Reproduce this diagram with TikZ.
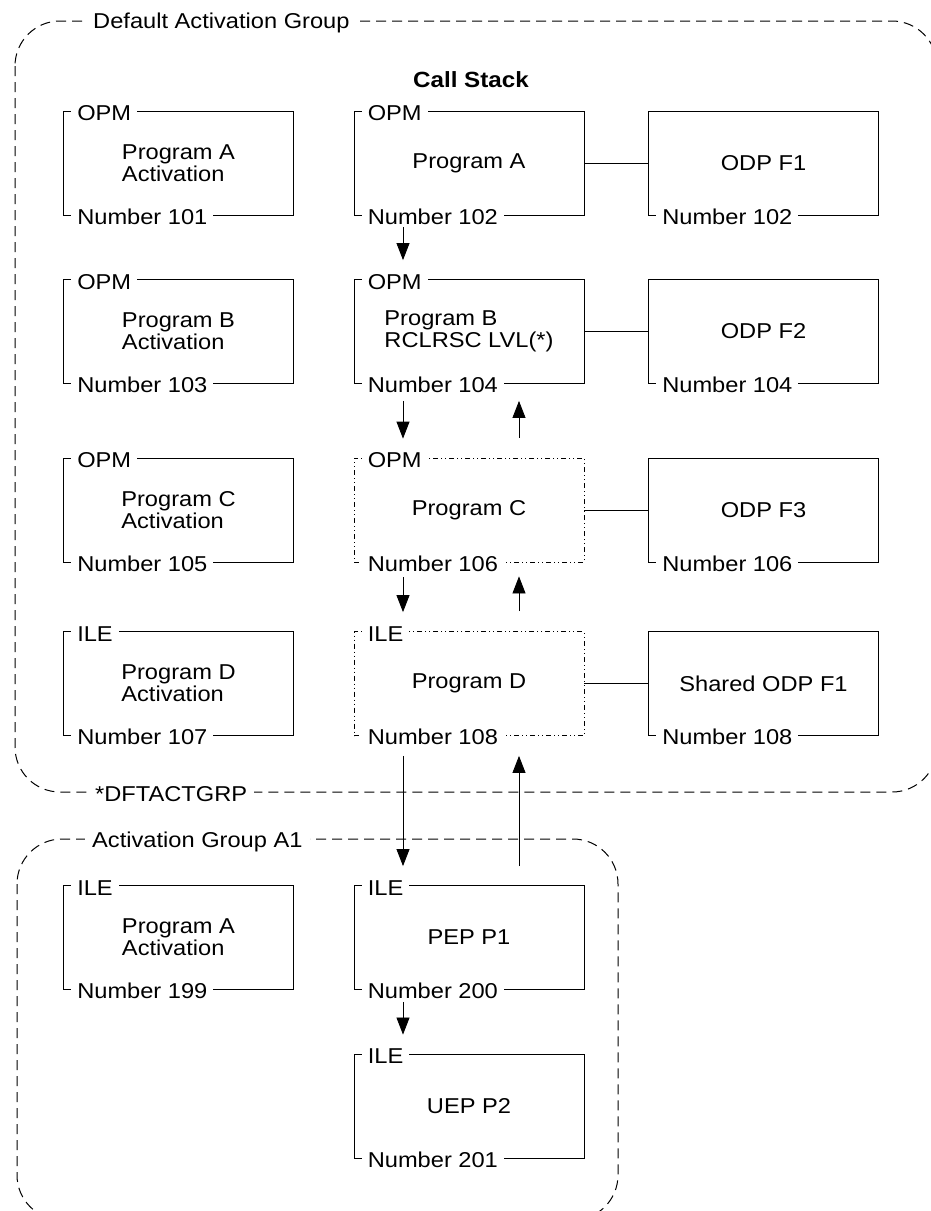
\documentclass[tikz,border=0pt]{standalone}
\usepackage{fontspec}
\setmainfont{Liberation Sans}[FakeStretch=1.1]
\usetikzlibrary{calc,arrows.meta}

\begin{document}
\begin{tikzpicture}[x=1pt,y=-1pt,
    font=\fontsize{21.5}{22}\selectfont,
    grp/.style={draw, line width=1pt, dash pattern=on 10pt off 6pt, rounded corners=45pt},
    grptag/.style={fill=white, anchor=base west, inner xsep=7pt, inner ysep=1pt},
    prog/.style={draw, line width=0.85pt, minimum width=230pt, minimum height=104pt, align=left, inner sep=0pt},
    cur/.style={prog, line width=0.8pt, dash pattern=on 5pt off 3pt on 1pt off 3pt on 1pt off 3pt},
    kind/.style={fill=white, anchor=base west, inner xsep=6pt, inner ysep=1pt, xshift=8pt, yshift=-10pt},
    num/.style={fill=white, anchor=base west, inner xsep=6pt, inner ysep=1pt, xshift=8pt, yshift=-9pt},
    lnk/.style={line width=0.8pt},
    call/.style={line width=0.8pt, -{Triangle[length=17pt,width=13pt]}}]

    % page is 931 x 1211, y runs downwards
    \useasboundingbox (0,0) rectangle (931,1211);
    \clip (0,0) rectangle (931,1211);

    % activation groups
    \draw[grp] (15,21) rectangle (937,792);
    \draw[grp] (17,839) rectangle (618,1220);
    \node[grptag] (dag) at (86,28) {Default Activation Group};
    \node[grptag] (dft) at (88,801) {*DFTACTGRP};
    \node[grptag] (ga1) at (85,847) {Activation Group A1};

    \node[font=\fontsize{22}{22}\selectfont\bfseries] (cs) at (471,80) {Call Stack};

    % activations (left column)
    \node[prog, label={[kind]north west:OPM}, label={[num]south west:Number 101}] (a101) at (178.5,163) {Program A\\Activation};
    \node[prog, label={[kind]north west:OPM}, label={[num]south west:Number 103}] (a103) at (178.5,331.5) {Program B\\Activation};
    \node[prog, label={[kind]north west:OPM}, label={[num]south west:Number 105}] (a105) at (178.5,510) {Program C\\Activation};
    \node[prog, label={[kind]north west:ILE}, label={[num]south west:Number 107}] (a107) at (178.5,683.5) {Program D\\Activation};
    \node[prog, label={[kind]north west:ILE}, label={[num]south west:Number 199}] (a199) at (178.5,937.5) {Program A\\Activation};

    % call stack entries
    \node[prog, label={[kind]north west:OPM}, label={[num]south west:Number 102}] (pa) at (469,163) {Program A};
    \node[prog, label={[kind]north west:OPM}, label={[num]south west:Number 104}] (pb) at (469,331.5) {Program B\\RCLRSC LVL(*)};
    \node[cur, label={[kind]north west:OPM}, label={[num]south west:Number 106}] (pc) at (469,510) {Program C};
    \node[cur, label={[kind]north west:ILE}, label={[num]south west:Number 108}] (pd) at (469,683.5) {Program D};
    \node[prog, label={[kind]north west:ILE}, label={[num]south west:Number 200}] (pep) at (469,937.5) {PEP P1};
    \node[prog, label={[kind]north west:ILE}, label={[num]south west:Number 201}] (uep) at (469,1106) {UEP P2};

    % open data paths
    \node[prog, label={[num]south west:Number 102}] (fa) at (763.5,163) {ODP F1};
    \node[prog, label={[num]south west:Number 104}] (fb) at (763.5,331.5) {ODP F2};
    \node[prog, label={[num]south west:Number 106}] (fc) at (763.5,510) {ODP F3};
    \node[prog, label={[num]south west:Number 108}] (fd) at (763.5,683.5) {Shared ODP F1};

    \draw[lnk] (pa.east) -- (fa.west);
    \draw[lnk] (pb.east) -- (fb.west);
    \draw[lnk] (pc.east) -- (fc.west);
    \draw[lnk] (pd.east) -- (fd.west);

    % calls go down on the left, returns come up on the right
    \draw[call] ($(pa.south)+(-66,12)$) -- ($(pb.north)+(-66,-19)$);
    \draw[call] ($(pb.south)+(-66,17)$) -- ($(pc.north)+(-66,-19)$);
    \draw[call] ($(pc.south)+(-66,15)$) -- ($(pd.north)+(-66,-19)$);
    \draw[call] ($(pd.south)+(-66,20)$) -- ($(pep.north)+(-66,-19)$);
    \draw[call] ($(pep.south)+(-66,12)$) -- ($(uep.north)+(-66,-19)$);
    \draw[call] ($(pc.north)+(50,-20)$) -- ($(pb.south)+(50,17)$);
    \draw[call] ($(pd.north)+(50,-20)$) -- ($(pc.south)+(50,14)$);
    \draw[call] ($(pep.north)+(50,-19)$) -- ($(pd.south)+(50,20)$);

\end{tikzpicture}
\end{document}
